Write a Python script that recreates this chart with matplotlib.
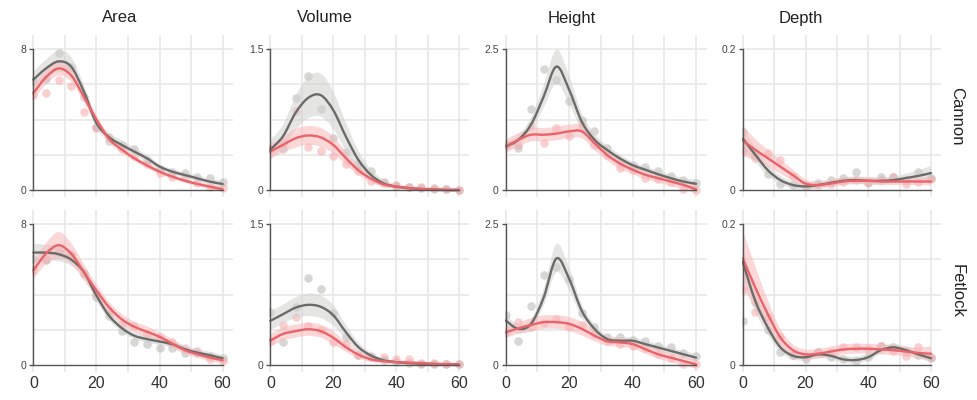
import matplotlib
matplotlib.use("Agg")
import matplotlib.pyplot as plt
from matplotlib.path import Path
from matplotlib.patches import PathPatch

plt.rcParams['font.family'] = ['Liberation Sans', 'DejaVu Sans']

days = [0, 4, 8, 12, 16, 20, 24, 28, 32, 36, 40, 44, 48, 52, 56, 60]
measures = ['Area', 'Volume', 'Height', 'Depth']
sites = ['Cannon', 'Fetlock']
y_tops = [8, 1.5, 2.5, 0.2]
y_top_labels = ['8', '1.5', '2.5', '0.2']
x_ticks = [0, 20, 40, 60]

# ---- Cannon ----
area_cannon_gray_pts = [6.2, 6.3, 7.8, 7.0, 5.3, 3.6, 2.8, 2.56, 2.3, 1.7, 1.2, 1.04, 0.95, 0.76, 0.66, 0.47]
area_cannon_red_pts = [5.4, 5.5, 6.26, 5.9, 4.45, 3.5, 3.0, 2.3, 1.9, 1.5, 0.95, 0.76, 0.66, 0.38, 0.19, 0.09]
area_cannon_gray_fit = [6.26, 6.9, 7.3, 7.0, 5.6, 3.8, 3.0, 2.56, 2.18, 1.8, 1.33, 1.04, 0.85, 0.66, 0.47, 0.34]
area_cannon_red_fit = [5.5, 6.4, 6.9, 6.5, 5.3, 4.0, 2.9, 2.3, 1.8, 1.4, 1.04, 0.76, 0.53, 0.34, 0.19, 0.04]
area_cannon_gray_se = [0.45, 0.5, 0.6, 0.55, 0.4, 0.3, 0.25, 0.25, 0.2, 0.2, 0.15, 0.15, 0.15, 0.15, 0.15, 0.2]
area_cannon_red_se = [0.45, 0.4, 0.4, 0.35, 0.3, 0.25, 0.2, 0.2, 0.15, 0.15, 0.15, 0.12, 0.12, 0.12, 0.15, 0.15]

volume_cannon_gray_pts = [0.44, 0.44, 0.98, 1.21, 0.86, 0.55, 0.40, 0.28, 0.2, 0.08, 0.04, 0.03, 0.02, 0.01, 0.005, 0.0]
volume_cannon_red_pts = [0.44, 0.5, 0.84, 0.46, 0.41, 0.36, 0.28, 0.2, 0.1, 0.07, 0.05, 0.036, 0.03, 0.02, 0.007, 0.0]
volume_cannon_gray_fit = [0.43, 0.57, 0.82, 0.98, 1.01, 0.85, 0.57, 0.32, 0.16, 0.07, 0.036, 0.02, 0.01, 0.005, 0.0, 0.0]
volume_cannon_red_fit = [0.41, 0.48, 0.55, 0.58, 0.56, 0.48, 0.34, 0.21, 0.12, 0.06, 0.036, 0.02, 0.01, 0.005, 0.0, 0.0]
volume_cannon_gray_se = [0.1, 0.12, 0.18, 0.22, 0.23, 0.2, 0.15, 0.1, 0.06, 0.04, 0.02, 0.02, 0.02, 0.02, 0.02, 0.02]
volume_cannon_red_se = [0.08, 0.08, 0.1, 0.1, 0.1, 0.09, 0.07, 0.05, 0.04, 0.03, 0.02, 0.02, 0.02, 0.02, 0.02, 0.02]

height_cannon_gray_pts = [0.8, 0.74, 1.44, 2.14, 1.96, 1.57, 1.24, 1.04, 0.75, 0.5, 0.45, 0.41, 0.33, 0.25, 0.18, 0.13]
height_cannon_red_pts = [0.8, 0.8, 1.13, 0.84, 1.1, 0.96, 1.15, 0.8, 0.62, 0.39, 0.36, 0.21, 0.2, 0.15, 0.01, 0.0]
height_cannon_gray_fit = [0.77, 0.89, 1.16, 1.66, 2.19, 1.78, 1.21, 0.89, 0.71, 0.56, 0.44, 0.36, 0.28, 0.21, 0.15, 0.11]
height_cannon_red_fit = [0.77, 0.89, 0.98, 0.98, 1.0, 1.04, 1.04, 0.83, 0.62, 0.47, 0.36, 0.27, 0.21, 0.15, 0.09, 0.01]
height_cannon_gray_se = [0.08, 0.08, 0.12, 0.2, 0.3, 0.25, 0.15, 0.1, 0.08, 0.07, 0.06, 0.06, 0.06, 0.06, 0.06, 0.07]
height_cannon_red_se = [0.12, 0.12, 0.12, 0.12, 0.12, 0.12, 0.12, 0.12, 0.1, 0.1, 0.08, 0.08, 0.08, 0.08, 0.08, 0.08]

depth_cannon_gray_pts = [0.082, 0.05, 0.023, 0.009, 0.007, 0.005, 0.0095, 0.014, 0.017, 0.026, 0.0095, 0.019, 0.019, 0.014, 0.026, 0.017]
depth_cannon_red_pts = [0.056, 0.045, 0.052, 0.042, 0.02, 0.007, 0.007, 0.009, 0.012, 0.014, 0.012, 0.014, 0.018, 0.009, 0.012, 0.015]
depth_cannon_gray_fit = [0.073, 0.05, 0.028, 0.014, 0.007, 0.005, 0.007, 0.010, 0.013, 0.014, 0.013, 0.013, 0.014, 0.017, 0.02, 0.024]
depth_cannon_red_fit = [0.07, 0.057, 0.045, 0.033, 0.021, 0.009, 0.007, 0.009, 0.012, 0.013, 0.013, 0.012, 0.012, 0.012, 0.012, 0.012]
depth_cannon_gray_se = [0.015, 0.01, 0.008, 0.006, 0.005, 0.005, 0.005, 0.005, 0.005, 0.005, 0.005, 0.005, 0.005, 0.006, 0.008, 0.01]
depth_cannon_red_se = [0.022, 0.015, 0.012, 0.01, 0.008, 0.006, 0.005, 0.005, 0.005, 0.005, 0.005, 0.005, 0.005, 0.005, 0.005, 0.006]

# ---- Fetlock ----
area_fetlock_gray_pts = [6.04, 5.94, 6.42, 6.23, 5.18, 3.85, 2.8, 1.94, 1.28, 1.18, 0.99, 0.99, 0.7, 0.7, 0.51, 0.38]
area_fetlock_red_pts = [5.37, 6.04, 6.51, 6.23, 5.2, 4.04, 3.09, 2.32, 2.23, 1.75, 1.56, 1.28, 0.99, 0.8, 0.32, 0.23]
area_fetlock_gray_fit = [6.38, 6.38, 6.29, 5.98, 5.28, 3.94, 2.8, 2.1, 1.66, 1.47, 1.33, 1.18, 0.9, 0.7, 0.55, 0.38]
area_fetlock_red_fit = [5.37, 6.32, 6.8, 6.32, 5.28, 4.23, 3.28, 2.6, 2.17, 1.89, 1.6, 1.22, 0.84, 0.61, 0.42, 0.27]
area_fetlock_gray_se = [0.5, 0.45, 0.4, 0.35, 0.3, 0.3, 0.25, 0.2, 0.2, 0.2, 0.2, 0.2, 0.2, 0.2, 0.2, 0.2]
area_fetlock_red_se = [0.5, 0.6, 0.75, 0.6, 0.45, 0.35, 0.3, 0.3, 0.3, 0.3, 0.25, 0.25, 0.2, 0.2, 0.2, 0.2]

volume_fetlock_gray_pts = [0.56, 0.24, 0.62, 0.93, 0.81, 0.55, 0.3, 0.11, 0.08, 0.05, 0.03, 0.02, 0.015, 0.01, 0.007, 0.005]
volume_fetlock_red_pts = [0.26, 0.43, 0.51, 0.41, 0.37, 0.24, 0.22, 0.11, 0.1, 0.08, 0.06, 0.06, 0.025, 0.025, 0.007, 0.007]
volume_fetlock_gray_fit = [0.47, 0.54, 0.61, 0.64, 0.62, 0.53, 0.35, 0.19, 0.1, 0.05, 0.03, 0.02, 0.014, 0.01, 0.007, 0.004]
volume_fetlock_red_fit = [0.26, 0.33, 0.36, 0.38, 0.36, 0.29, 0.19, 0.11, 0.06, 0.04, 0.03, 0.025, 0.018, 0.011, 0.007, 0.004]
volume_fetlock_gray_se = [0.1, 0.1, 0.11, 0.12, 0.12, 0.11, 0.08, 0.05, 0.03, 0.02, 0.02, 0.02, 0.02, 0.02, 0.02, 0.02]
volume_fetlock_red_se = [0.07, 0.07, 0.07, 0.07, 0.07, 0.07, 0.05, 0.04, 0.03, 0.02, 0.02, 0.02, 0.02, 0.02, 0.02, 0.02]

height_fetlock_gray_pts = [0.88, 0.42, 1.04, 1.59, 1.74, 1.52, 0.93, 0.67, 0.5, 0.49, 0.45, 0.43, 0.34, 0.31, 0.22, 0.16]
height_fetlock_red_pts = [0.58, 0.76, 0.67, 0.74, 0.82, 0.68, 0.71, 0.55, 0.43, 0.38, 0.34, 0.3, 0.2, 0.13, 0.02, 0.02]
height_fetlock_gray_fit = [0.79, 0.64, 0.73, 1.2, 1.89, 1.53, 0.96, 0.64, 0.46, 0.43, 0.43, 0.37, 0.31, 0.25, 0.19, 0.13]
height_fetlock_red_fit = [0.58, 0.65, 0.71, 0.76, 0.76, 0.73, 0.64, 0.52, 0.42, 0.4, 0.37, 0.28, 0.19, 0.13, 0.07, 0.01]
height_fetlock_gray_se = [0.1, 0.08, 0.08, 0.15, 0.25, 0.2, 0.12, 0.08, 0.07, 0.06, 0.06, 0.06, 0.06, 0.06, 0.06, 0.07]
height_fetlock_red_se = [0.1, 0.1, 0.12, 0.12, 0.12, 0.12, 0.12, 0.1, 0.08, 0.08, 0.08, 0.08, 0.08, 0.08, 0.08, 0.08]

depth_fetlock_gray_pts = [0.063, 0.09, 0.05, 0.018, 0.014, 0.008, 0.018, 0.012, 0.008, 0.006, 0.012, 0.027, 0.025, 0.02, 0.014, 0.01]
depth_fetlock_red_pts = [0.106, 0.075, 0.068, 0.04, 0.014, 0.013, 0.018, 0.018, 0.025, 0.025, 0.022, 0.027, 0.02, 0.013, 0.026, 0.012]
depth_fetlock_gray_fit = [0.146, 0.091, 0.053, 0.025, 0.013, 0.011, 0.015, 0.013, 0.008, 0.007, 0.011, 0.021, 0.025, 0.021, 0.015, 0.0095]
depth_fetlock_red_fit = [0.151, 0.11, 0.072, 0.039, 0.021, 0.015, 0.016, 0.019, 0.022, 0.023, 0.023, 0.022, 0.021, 0.019, 0.017, 0.016]
depth_fetlock_gray_se = [0.02, 0.015, 0.01, 0.007, 0.005, 0.005, 0.005, 0.005, 0.005, 0.005, 0.005, 0.005, 0.005, 0.005, 0.005, 0.006]
depth_fetlock_red_se = [0.04, 0.03, 0.02, 0.012, 0.008, 0.007, 0.007, 0.007, 0.007, 0.007, 0.007, 0.007, 0.007, 0.007, 0.008, 0.01]

panels = {
    ('Cannon', 'Area'): (area_cannon_gray_pts, area_cannon_red_pts, area_cannon_gray_fit, area_cannon_red_fit, area_cannon_gray_se, area_cannon_red_se),
    ('Cannon', 'Volume'): (volume_cannon_gray_pts, volume_cannon_red_pts, volume_cannon_gray_fit, volume_cannon_red_fit, volume_cannon_gray_se, volume_cannon_red_se),
    ('Cannon', 'Height'): (height_cannon_gray_pts, height_cannon_red_pts, height_cannon_gray_fit, height_cannon_red_fit, height_cannon_gray_se, height_cannon_red_se),
    ('Cannon', 'Depth'): (depth_cannon_gray_pts, depth_cannon_red_pts, depth_cannon_gray_fit, depth_cannon_red_fit, depth_cannon_gray_se, depth_cannon_red_se),
    ('Fetlock', 'Area'): (area_fetlock_gray_pts, area_fetlock_red_pts, area_fetlock_gray_fit, area_fetlock_red_fit, area_fetlock_gray_se, area_fetlock_red_se),
    ('Fetlock', 'Volume'): (volume_fetlock_gray_pts, volume_fetlock_red_pts, volume_fetlock_gray_fit, volume_fetlock_red_fit, volume_fetlock_gray_se, volume_fetlock_red_se),
    ('Fetlock', 'Height'): (height_fetlock_gray_pts, height_fetlock_red_pts, height_fetlock_gray_fit, height_fetlock_red_fit, height_fetlock_gray_se, height_fetlock_red_se),
    ('Fetlock', 'Depth'): (depth_fetlock_gray_pts, depth_fetlock_red_pts, depth_fetlock_gray_fit, depth_fetlock_red_fit, depth_fetlock_gray_se, depth_fetlock_red_se),
}

GRAY_LINE = '#6b6b69'
RED_LINE = '#e8646a'
GRAY_PT = '#b0b0ae'
RED_PT = '#f4a0a3'
GRAY_BAND = '#d0d0ce'
RED_BAND = '#f9b6b9'
SPINE = '#555555'


def bezier_segments(x, y):
    # catmull-rom through the points, handed to matplotlib as cubic bezier
    n = len(x)
    verts, codes = [], []
    for i in range(n - 1):
        a = max(i - 1, 0)
        d = min(i + 2, n - 1)
        c1 = (x[i] + (x[i + 1] - x[a]) / 6.0, y[i] + (y[i + 1] - y[a]) / 6.0)
        c2 = (x[i + 1] - (x[d] - x[i]) / 6.0, y[i + 1] - (y[d] - y[i]) / 6.0)
        verts += [c1, c2, (x[i + 1], y[i + 1])]
        codes += [Path.CURVE4] * 3
    return verts, codes


def smooth_line(ax, x, y, color):
    v, c = bezier_segments(x, y)
    path = Path([(x[0], y[0])] + v, [Path.MOVETO] + c)
    ax.add_patch(PathPatch(path, facecolor='none', edgecolor=color, lw=1.7, zorder=5,
                           capstyle='round', joinstyle='round'))


def smooth_band(ax, x, y, se, color, alpha):
    up = [a + b for a, b in zip(y, se)]
    lo = [a - b for a, b in zip(y, se)]
    v1, c1 = bezier_segments(x, up)
    xr, lr = x[::-1], lo[::-1]
    v2, c2 = bezier_segments(xr, lr)
    verts = [(x[0], up[0])] + v1 + [(xr[0], lr[0])] + v2 + [(x[0], up[0])]
    codes = [Path.MOVETO] + c1 + [Path.LINETO] + c2 + [Path.CLOSEPOLY]
    ax.add_patch(PathPatch(Path(verts, codes), facecolor=color, edgecolor='none',
                           alpha=alpha, zorder=3))


fig = plt.figure(figsize=(9.77, 4.0), dpi=100)
W, H = 977.0, 400.0
col_left = [32.4, 269.4, 504.7, 741.8]
col_right = [233.0, 469.4, 706.5, 941.4]
row_top = [35.0, 210.0]
row_bot = [197.0, 372.0]
title_x = [120, 325, 572, 801]

for r, site in enumerate(sites):
    for c, meas in enumerate(measures):
        ax = fig.add_axes([col_left[c] / W, 1 - row_bot[r] / H,
                           (col_right[c] - col_left[c]) / W, (row_bot[r] - row_top[r]) / H])
        top = y_tops[c]
        gpts, rpts, gfit, rfit, gse, rse = panels[(site, meas)]

        ax.set_xlim(-0.3, 63.3)
        ax.set_ylim(-0.05 * top, 1.1 * top)

        for gx in range(0, 61, 10):
            ax.axvline(gx, color='#e8e8e8', lw=1.2, zorder=0)
        for k in range(1, 5):
            ax.hlines(top * k / 4, 0, 63.3, color='#e8e8e8', lw=1.2, zorder=0)

        ax.scatter(days, gpts, s=38, color=GRAY_PT, alpha=0.5, lw=0, zorder=2)
        ax.scatter(days, rpts, s=38, color=RED_PT, alpha=0.5, lw=0, zorder=2)
        smooth_band(ax, days, gfit, gse, GRAY_BAND, 0.55)
        smooth_band(ax, days, rfit, rse, RED_BAND, 0.55)
        smooth_line(ax, days, gfit, GRAY_LINE)
        smooth_line(ax, days, rfit, RED_LINE)

        for s in ['top', 'right']:
            ax.spines[s].set_visible(False)
        ax.spines['left'].set_position(('data', 0))
        ax.spines['bottom'].set_position(('data', 0))
        ax.spines['left'].set_bounds(0, top)
        ax.spines['bottom'].set_bounds(0, 60)
        for s in ['left', 'bottom']:
            ax.spines[s].set_color(SPINE)
            ax.spines[s].set_linewidth(1.0)
            ax.spines[s].set_zorder(6)

        ax.set_yticks([0, top])
        ax.set_yticklabels(['0', y_top_labels[c]])
        ax.tick_params(axis='y', length=3, width=1.0, color=SPINE, labelsize=7.5,
                       labelcolor='#444444', pad=2)
        ax.set_xticks(x_ticks)
        ax.set_xticklabels([str(t) for t in x_ticks])
        ax.tick_params(axis='x', length=0, labelsize=11.5, labelcolor='#333333', pad=8,
                       labelbottom=(r == 1))
        ax.patch.set_alpha(0)

        if r == 0:
            fig.text(title_x[c] / W, 1 - 18 / H, meas, ha='center', va='center',
                     fontsize=12, color='#222222')
    fig.text(957 / W, 1 - (row_top[r] + row_bot[r]) / 2 / H, site, rotation=-90,
             ha='center', va='center', fontsize=12, color='#222222')

fig.savefig('out.png', dpi=100, facecolor='white')
